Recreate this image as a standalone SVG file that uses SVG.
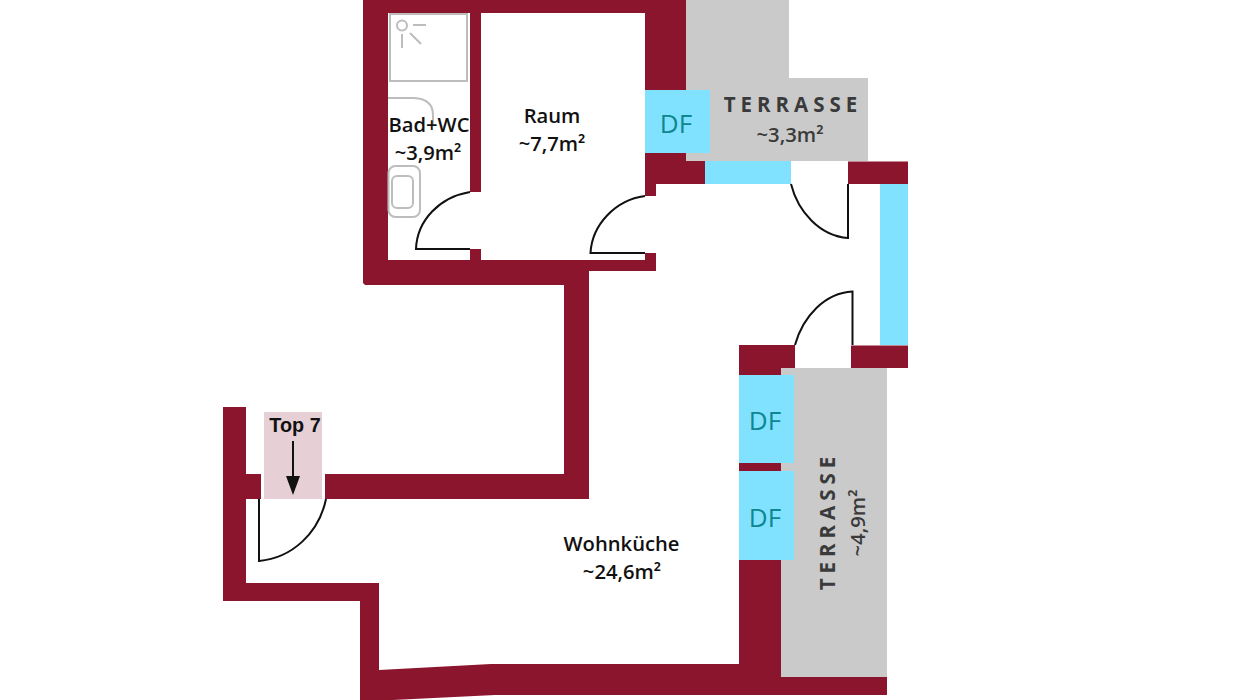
<svg xmlns="http://www.w3.org/2000/svg" width="1236" height="700" viewBox="0 0 1236 700">
<style>
.wall{fill:#8c152e}
.glass{fill:#80e2ff}
.terr{fill:#cacaca}
.door{fill:none;stroke:#111;stroke-width:2}
.fix{fill:none;stroke:#bdbdbd;stroke-width:2}
text{font-family:"Open Sans","Liberation Sans",sans-serif}
.room{font-size:20.200px;font-weight:600;fill:#111;text-anchor:middle}
.df{font-size:26px;fill:#0e8790;text-anchor:middle}
.tl{font-size:20.500px;font-weight:700;fill:#3a3a3a;text-anchor:middle;letter-spacing:5px}
.ta{font-size:20.300px;font-weight:600;fill:#3a3a3a;text-anchor:middle}
</style>
<rect width="1236" height="700" fill="#fff"/>
<g id="terraces">
<path class="terr" d="M686 0H789V78H868V161H686Z"/>
<rect class="terr" x="781" y="368" width="106" height="309"/>
</g>
<rect x="264" y="412" width="58" height="87" fill="#e6d0d5"/>
<g id="walls">
<path class="wall" d="M363 0H686V90H645V13H481V192H470V13H388V260H470V249H481V260H645V253H656V271H589V499H325V474H564V285H365L363 283Z"/>
<path class="wall" d="M645 153H686V161H705V184H656V196H645Z"/>
<path class="wall" d="M848 161.500H908V184H848Z"/>
<path class="wall" d="M739 345H795V368H781V375H739Z"/>
<path class="wall" d="M851 345.500H908V368H851Z"/>
<rect class="wall" x="739" y="463" width="42" height="8"/>
<path class="wall" d="M223 407H246V474H261V499H246V583H379V670L491 664H739V560H781V677H887V695H495L393 700H360V601H223Z"/>
</g>
<g id="windows">
<rect class="glass" x="645" y="90" width="65" height="63"/>
<rect class="glass" x="705" y="161" width="86" height="23"/>
<rect class="glass" x="880" y="184" width="28" height="161"/>
<rect class="glass" x="739" y="375" width="55" height="88"/>
<rect class="glass" x="739" y="471" width="55" height="89"/>
</g>
<g id="fixtures">
<rect class="fix" x="390" y="14" width="77" height="67"/>
<circle class="fix" cx="402" cy="25.500" r="5"/>
<path class="fix" d="M413 25H426M402 34V48M410 33L421 44"/>
<path class="fix" d="M388 98H414Q433 99 433 115V124"/>
<rect class="fix" x="388.500" y="166" width="31.500" height="51" rx="7"/>
<rect class="fix" x="392" y="176" width="21" height="32" rx="5"/>
</g>
<g id="doors">
<path class="door" d="M470 249H416C417 220 440 197 470 192"/>
<path class="door" d="M645 253H590.500C592 225 615 200 645 196"/>
<path class="door" d="M791 184C798 212 820 236 848 238V184"/>
<path class="door" d="M852.500 345V291.500C825 293 803 316 795 345"/>
<path class="door" d="M259 499V561C292 558 319 533 326 499"/>
<path d="M293 441V480" stroke="#111" stroke-width="2" fill="none"/>
<path d="M286 476H300L293 495Z" fill="#111"/>
</g>
<g id="labels">
<text class="room" x="429" y="132">Bad+WC</text>
<text class="room" x="428" y="160">~3,9m²</text>
<text class="room" x="552" y="123">Raum</text>
<text class="room" x="552" y="151">~7,7m²</text>
<text class="room" x="621.500" y="551">Wohnküche</text>
<text class="room" x="622" y="579">~24,6m²</text>
<text x="295" y="432" text-anchor="middle" font-size="19.800" font-weight="700" fill="#111" style="font-family:'Liberation Sans',sans-serif">Top 7</text>
<text class="df" x="676" y="133">DF</text>
<text class="df" x="765" y="430">DF</text>
<text class="df" x="765" y="527">DF</text>
<text class="tl" x="793" y="112">TERRASSE</text>
<text class="ta" x="790" y="142">~3,3m²</text>
<text class="tl" transform="translate(835 521) rotate(-90)">TERRASSE</text>
<text class="ta" transform="translate(865 523) rotate(-90)">~4,9m²</text>
</g>
</svg>
